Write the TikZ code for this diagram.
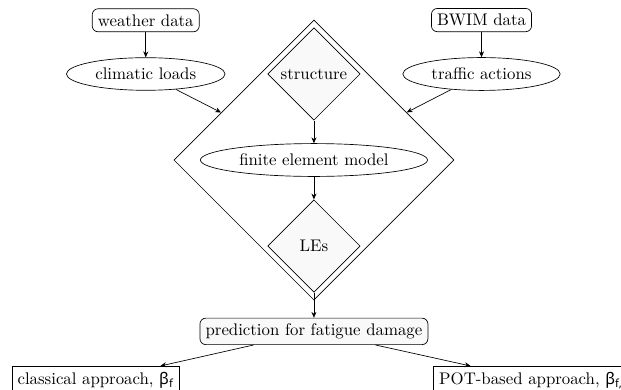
\documentclass[tikz,border=0pt]{standalone}
\usepackage{fontspec}
\newfontfamily\greeksf{Noto Sans}[Scale=0.95]
\usetikzlibrary{shapes.geometric, arrows.meta, positioning, fit}

\newcommand{\betaf}[1]{{\greeksf β\textsubscript{#1}}}

\begin{document}
\begin{tikzpicture}[
  node distance=13.5pt and 25pt,
  source/.style={rectangle, rounded corners=3.5pt, draw},
  load/.style={ellipse, draw},
  part/.style={diamond, draw, fill=gray!5, minimum size=55pt, inner sep=1pt},
  outcome/.style={rectangle, draw, minimum height=17pt},
  arrow/.style={-{Stealth[length=3.5pt, width=3pt]}}
]
\useasboundingbox (-186.8pt,95.2pt) rectangle (182.7pt,-136.3pt);
\clip (-186.8pt,95.2pt) rectangle (182.7pt,-136.3pt);

% structural model
\node[load] (fem) {finite element model};
\node[part, above=of fem] (structure) {structure};
\node[part, below=of fem] (les) {LEs};
\node[diamond, draw, inner sep=2.8pt, fit=(fem)] (model) {};

% actions
\node[load, left=of structure]  (climatic) {climatic loads};
\node[load, right=of structure] (traffic)  {traffic actions};
\node[source, above=15pt of climatic] (weather) {weather data};
\node[source, above=15pt of traffic]  (bwim)    {BWIM data};

% results
\node[source, fill=gray!5, below=15pt of les] (damage) {prediction for fatigue damage};
\node[outcome, below left=12.5pt and 11.9pt of damage] (classical) {classical approach, \betaf{f}};
\node[outcome, below right=12.5pt and 3pt of damage, text width=116pt, align=left] (pot) {POT-based approach, \betaf{f,}};

\draw[arrow] (weather)   -- (climatic);
\draw[arrow] (bwim)      -- (traffic);
\draw[arrow] (climatic)  -- (model);
\draw[arrow] (traffic)   -- (model);
\draw[arrow] (structure) -- (fem);
\draw[arrow] (fem)       -- (les);
\draw[arrow] (les)       -- (damage);
\draw[arrow] (damage)    -- (classical);
\draw[arrow] (damage)    -- (pot);

\end{tikzpicture}
\end{document}
